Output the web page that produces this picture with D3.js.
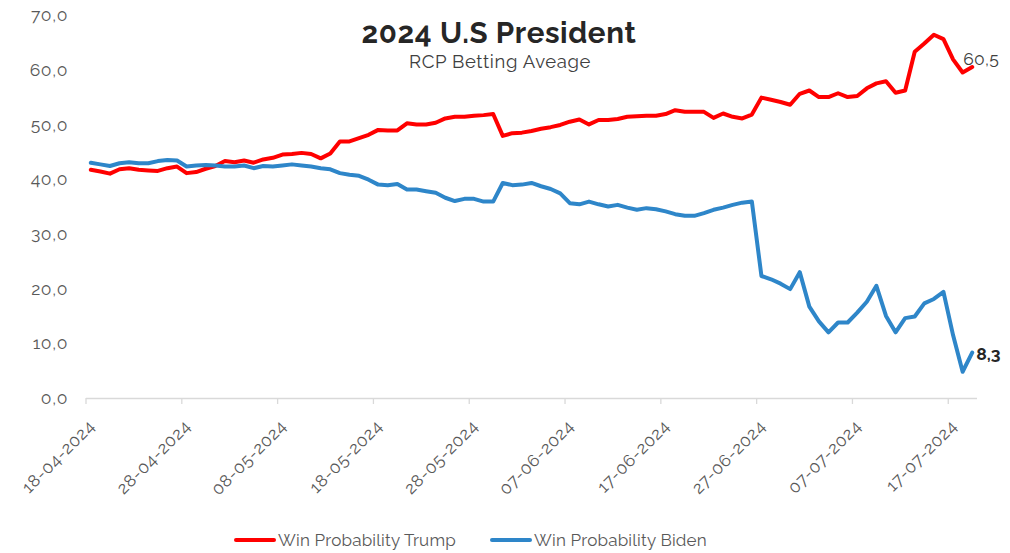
<!DOCTYPE html>
<html><head><meta charset="utf-8">
<script src="https://cdn.jsdelivr.net/npm/d3@7"></script>
<style>body{margin:0;background:#fff}svg{display:block}</style>
</head><body>
<svg id="c" width="1010" height="553"></svg>
<script>
const startDate = "2024-04-18";
const trump = [41.7,41.4,41.0,41.8,42.0,41.7,41.6,41.5,42.0,42.3,41.1,41.3,41.9,42.4,43.3,43.1,43.4,43.0,43.6,43.9,
44.5,44.6,44.8,44.6,43.8,44.7,46.9,46.9,47.5,48.1,49.0,48.9,48.9,50.2,50.0,50.0,50.3,51.1,51.4,51.4,
51.6,51.7,51.9,47.9,48.4,48.5,48.8,49.2,49.5,49.9,50.5,50.9,50.0,50.8,50.8,51.0,51.4,51.5,51.6,51.6,
51.9,52.6,52.3,52.3,52.3,51.2,52.0,51.4,51.1,51.8,54.9,54.5,54.1,53.6,55.6,56.2,55.0,55.0,55.7,55.0,
55.2,56.6,57.5,57.9,55.8,56.2,63.3,64.8,66.4,65.6,61.9,59.5,60.5];
const biden = [43.0,42.7,42.4,42.9,43.1,42.9,42.9,43.3,43.5,43.4,42.3,42.5,42.6,42.5,42.3,42.3,42.5,42.0,42.4,42.3,
42.5,42.7,42.5,42.3,42.0,41.8,41.1,40.8,40.6,39.9,39.0,38.9,39.1,38.1,38.1,37.8,37.5,36.6,36.0,36.4,
36.4,35.9,35.9,39.3,38.9,39.0,39.3,38.7,38.2,37.4,35.6,35.4,35.9,35.4,35.0,35.3,34.8,34.4,34.7,34.5,
34.1,33.6,33.3,33.3,33.8,34.4,34.8,35.3,35.7,35.9,22.3,21.7,20.9,19.9,23.0,16.7,14.0,12.0,13.8,13.8,
15.6,17.6,20.5,15.0,12.0,14.6,14.9,17.3,18.1,19.4,11.5,4.8,8.3];
const tickLabels = ["18-04-2024","28-04-2024","08-05-2024","18-05-2024","28-05-2024","07-06-2024","17-06-2024","27-06-2024","07-07-2024","17-07-2024"];
const yTicks = [0,10,20,30,40,50,60,70];
const seriesNames = ["Win Probability Trump","Win Probability Biden"];
const colors = ["#ff0000","#2e86c9"];

const start = d3.timeParse("%Y-%m-%d")(startDate);
const categories = trump.map((_, i) => d3.timeDay.offset(start, i));
const fmtDate = d3.timeFormat("%d-%m-%Y");
const fmtVal = d => d3.format(".1f")(d).replace(".", ",");

const svg = d3.select("#c");
const font = "Raleway, Lato, 'Open Sans', sans-serif";
const x = d3.scaleBand().domain(categories.map(fmtDate)).range([86, 977]).padding(0);
const y = d3.scaleLinear().domain([0,70]).range([398, 15]);
const cx = d => x(d) + x.bandwidth()/2;

// title
svg.append("text").attr("x",499).attr("y",43).attr("text-anchor","middle")
  .attr("font-family",font).attr("font-weight","700").attr("font-size",29.5).attr("letter-spacing",0.6).attr("fill","#262626")
  .text("2024 U.S President");
svg.append("text").attr("x",500).attr("y",68).attr("text-anchor","middle")
  .attr("font-family",font).attr("font-size",18.5).attr("letter-spacing",0.6).attr("fill","#404040")
  .text("RCP Betting Aveage");

// y axis labels
const ya = svg.append("g").attr("transform","translate(68,0)")
  .call(d3.axisLeft(y).tickValues(yTicks).tickSize(0).tickPadding(0).tickFormat(fmtVal));
ya.select(".domain").remove();
ya.selectAll("text").attr("font-family",font).attr("font-size",17.5).attr("letter-spacing",0.6).attr("fill","#595959");

// x axis line + ticks at boundaries every 10 categories
const xa = svg.append("g");
xa.append("line").attr("x1",86).attr("x2",977).attr("y1",398.5).attr("y2",398.5).attr("stroke","#d9d9d9").attr("stroke-width",1.3);
const tickIdx = tickLabels.map(t => categories.findIndex(c => fmtDate(c) === t));
xa.selectAll("line.tk").data(tickIdx).join("line").attr("class","tk")
  .attr("x1", i => x(fmtDate(categories[i]))).attr("x2", i => x(fmtDate(categories[i])))
  .attr("y1",398).attr("y2",404).attr("stroke","#d9d9d9").attr("stroke-width",1.3);
xa.selectAll("text").data(tickLabels).join("text")
  .attr("transform", t => `translate(${cx(t)+1},${423}) rotate(-45)`)
  .attr("text-anchor","end").attr("dy","0.35em")
  .attr("font-family",font).attr("font-size",17).attr("letter-spacing",0.6).attr("fill","#595959")
  .text(t => t);

// lines
const line = d3.line().x((d,i) => cx(fmtDate(categories[i]))).y(d => y(d));
[trump, biden].forEach((s, k) => {
  svg.append("path").datum(s).attr("d", line).attr("fill","none")
    .attr("stroke", colors[k]).attr("stroke-width",4).attr("stroke-linejoin","round").attr("stroke-linecap","round");
});

// end labels
const lastIdx = trump.length - 1;
const lx = cx(fmtDate(categories[lastIdx]));
svg.append("text").attr("x", lx - 9).attr("y", y(trump[lastIdx]) - 2)
  .attr("font-family",font).attr("font-size",17.5).attr("letter-spacing",0.3).attr("fill","#404040")
  .text(fmtVal(trump[lastIdx]));
svg.append("text").attr("x", lx + 4).attr("y", y(biden[lastIdx]) + 7)
  .attr("font-family",font).attr("font-weight","700").attr("font-size",17.5).attr("fill","#262626")
  .text(fmtVal(biden[lastIdx]));

// legend
const lg = svg.append("g");
const legX = [236, 492];
seriesNames.forEach((n, k) => {
  lg.append("line").attr("x1",legX[k]).attr("x2",legX[k]+38).attr("y1",540).attr("y2",540)
    .attr("stroke",colors[k]).attr("stroke-width",4).attr("stroke-linecap","round");
  lg.append("text").attr("x",legX[k]+42).attr("y",546)
    .attr("font-family",font).attr("font-size",17).attr("letter-spacing",0.2).attr("fill","#595959").text(n);
});
</script>
</body></html>
